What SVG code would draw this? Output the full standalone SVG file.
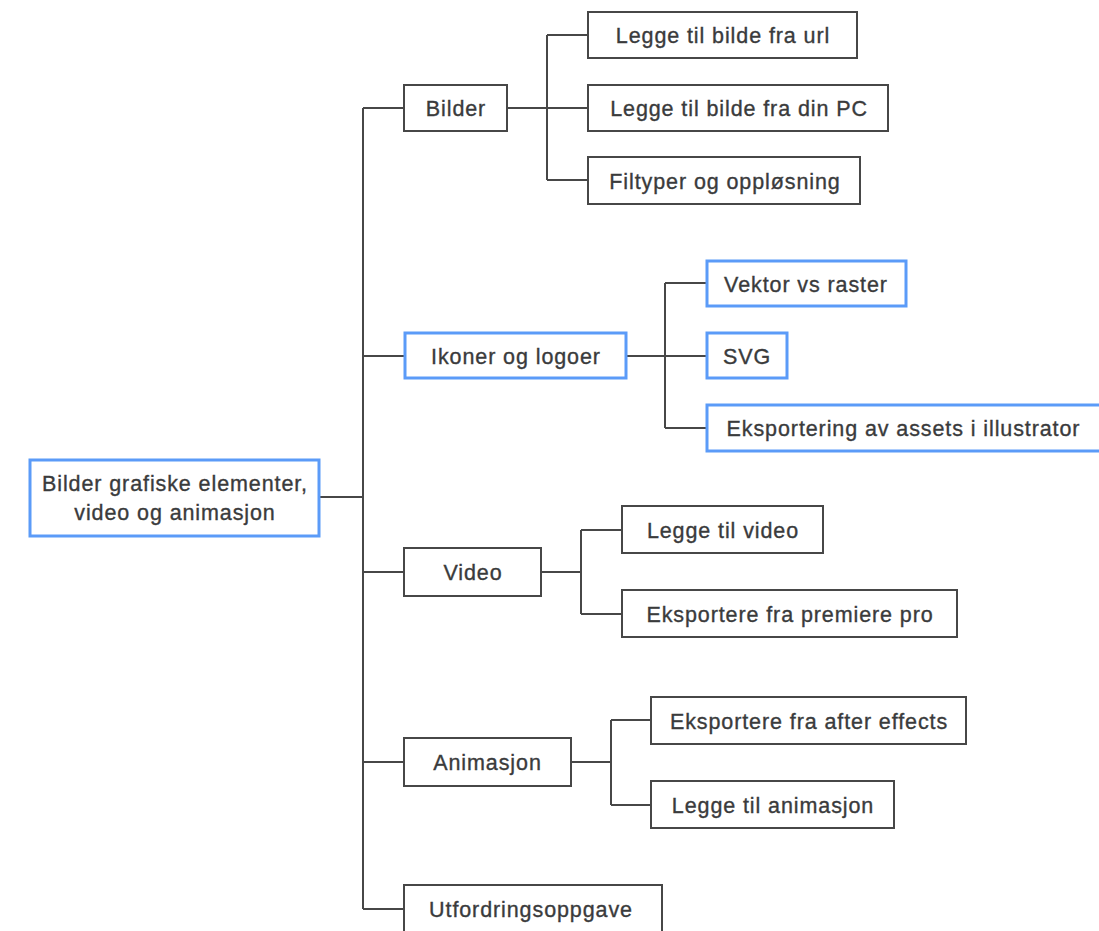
<svg xmlns="http://www.w3.org/2000/svg" width="1099" height="931" viewBox="0 0 1099 931">
<style>
.n{fill:#fff;stroke:#474747;stroke-width:2}
.b{fill:#fff;stroke:#5b9bf8;stroke-width:3}
.t{font-family:"Liberation Sans",Arial,sans-serif;font-size:21.5px;letter-spacing:0.9px;fill:#3a3b3c;stroke:#3a3b3c;stroke-width:0.35px;text-anchor:middle;dominant-baseline:central}
.c{fill:none;stroke:#474747;stroke-width:2}
</style>
<rect width="1099" height="931" fill="#fff"/>
<g id="connectors">
<path class="c" d="M319 497H363M363 108V909M363 108H404M363 356H405M363 572H404M363 762H404M363 909H404"/>
<path class="c" d="M507 108H588M547 35V180M547 35H588M547 180H588"/>
<path class="c" d="M626 356H707M665 283V428M665 283H707M665 428H707"/>
<path class="c" d="M541 572H581M581 530V614M581 530H622M581 614H622"/>
<path class="c" d="M571 762H611M611 720V805M611 720H651M611 805H651"/>
</g>
<g id="root"><rect class="b" x="30" y="460" width="289" height="76"/><text class="t" x="175" y="484">Bilder grafiske elementer,</text><text class="t" x="175" y="513">video og animasjon</text></g>
<g id="bilder"><rect class="n" x="404" y="85" width="103" height="46"/><text class="t" x="456" y="109">Bilder</text></g>
<g id="url"><rect class="n" x="588" y="12" width="269" height="46"/><text class="t" x="723" y="36">Legge til bilde fra url</text></g>
<g id="pc"><rect class="n" x="588" y="85" width="300" height="46"/><text class="t" x="739" y="109">Legge til bilde fra din PC</text></g>
<g id="filtyper"><rect class="n" x="588" y="157" width="272" height="47"/><text class="t" x="725" y="181.5">Filtyper og oppløsning</text></g>
<g id="ikoner"><rect class="b" x="405" y="333" width="221" height="45"/><text class="t" x="516" y="357">Ikoner og logoer</text></g>
<g id="vektor"><rect class="b" x="707" y="261" width="199" height="45"/><text class="t" x="806" y="284.5">Vektor vs raster</text></g>
<g id="svg"><rect class="b" x="707" y="333" width="80" height="45"/><text class="t" x="747" y="357">SVG</text></g>
<g id="eksportering"><rect class="b" x="707" y="405" width="396" height="46"/><text class="t" x="903.5" y="429">Eksportering av assets i illustrator</text></g>
<g id="video"><rect class="n" x="404" y="548" width="137" height="48"/><text class="t" x="473" y="573">Video</text></g>
<g id="leggevideo"><rect class="n" x="622" y="506" width="201" height="47"/><text class="t" x="723" y="530.5">Legge til video</text></g>
<g id="premiere"><rect class="n" x="622" y="590" width="335" height="47"/><text class="t" x="790" y="614.5">Eksportere fra premiere pro</text></g>
<g id="animasjon"><rect class="n" x="404" y="738" width="167" height="48"/><text class="t" x="487.5" y="763">Animasjon</text></g>
<g id="aftereffects"><rect class="n" x="651" y="697" width="315" height="47"/><text class="t" x="809" y="721.5">Eksportere fra after effects</text></g>
<g id="leggeanim"><rect class="n" x="651" y="781" width="243" height="47"/><text class="t" x="773" y="805.5">Legge til animasjon</text></g>
<g id="utfordring"><rect class="n" x="404" y="885" width="258" height="50"/><text class="t" x="531" y="910">Utfordringsoppgave</text></g>
</svg>
